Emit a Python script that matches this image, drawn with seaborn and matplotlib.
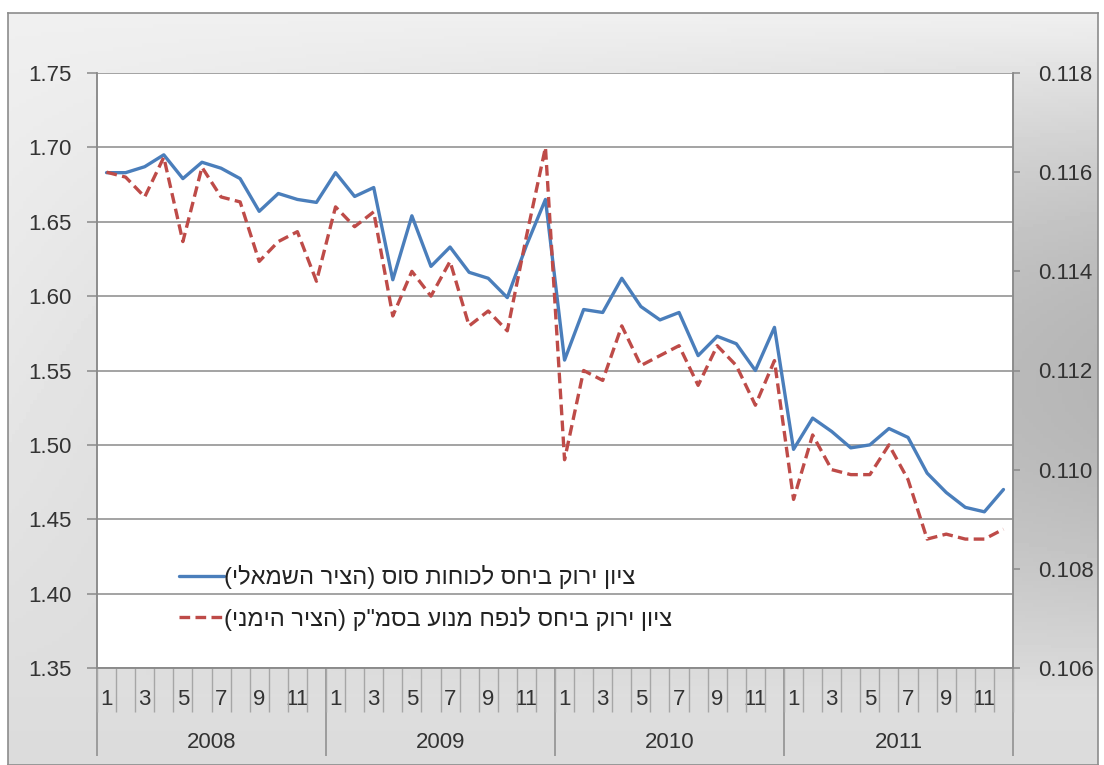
import numpy as np
import pandas as pd
import seaborn as sns
import matplotlib.pyplot as plt
from matplotlib.ticker import FormatStrFormatter

# ---- data ----
years = [2008, 2009, 2010, 2011]
months = list(range(1, 13))

# left axis: ציון ירוק ביחס לכוחות סוס
hp_score = [1.683, 1.683, 1.687, 1.695, 1.679, 1.690, 1.686, 1.679, 1.657, 1.669, 1.665, 1.663,
            1.683, 1.667, 1.673, 1.611, 1.654, 1.620, 1.633, 1.616, 1.612, 1.599, 1.634, 1.665,
            1.557, 1.591, 1.589, 1.612, 1.593, 1.584, 1.589, 1.560, 1.573, 1.568, 1.550, 1.579,
            1.497, 1.518, 1.509, 1.498, 1.500, 1.511, 1.505, 1.481, 1.468, 1.458, 1.455, 1.470]

# right axis: ציון ירוק ביחס לנפח מנוע
cc_score = [0.1160, 0.1159, 0.1155, 0.1163, 0.1146, 0.1161, 0.1155, 0.1154, 0.1142, 0.1146, 0.1148, 0.1138,
            0.1153, 0.1149, 0.1152, 0.1131, 0.1140, 0.1135, 0.1142, 0.1129, 0.1132, 0.1128, 0.1147, 0.1165,
            0.1102, 0.1120, 0.1118, 0.1129, 0.1121, 0.1123, 0.1125, 0.1117, 0.1125, 0.1121, 0.1113, 0.1122,
            0.1094, 0.1107, 0.1100, 0.1099, 0.1099, 0.1105, 0.1098, 0.1086, 0.1087, 0.1086, 0.1086, 0.1088]

label_hp = "(ילאמשה ריצה) סוס תוחוכל סחיב קורי ןויצ"     # visual order of the Hebrew text
label_cc = "(ינמיה ריצה) ק\"מסב עונמ חפנל סחיב קורי ןויצ"

df = pd.DataFrame({
    "idx": range(len(hp_score)),
    "year": [y for y in years for m in months],
    "month": [m for y in years for m in months],
    "hp": hp_score,
    "cc": cc_score,
})

sns.set_style("white")
plt.rcParams['font.family'] = ['Liberation Sans', 'DejaVu Sans']

W, H = 1104, 765
fig = plt.figure(figsize=(W / 100, H / 100), dpi=100)
fig.patch.set_facecolor("white")

# gray gradient chart area
bg = fig.add_axes([8 / W, 0, (W - 14) / W, (H - 13) / H], zorder=-10)
gx, gy = np.meshgrid(np.linspace(0, 1, 300), np.linspace(0, 1, 200))
shade = 0.94 - 0.19 * gx * np.sin(np.pi * np.clip(gy * 1.1, 0, 1)) - 0.08 * gy
bg.imshow(shade, cmap="gray", vmin=0, vmax=1, aspect="auto", extent=[0, 1, 1, 0])
bg.set_xticks([])
bg.set_yticks([])
for s in bg.spines.values():
    s.set_color("#8c8c8c")
    s.set_linewidth(1.2)

ax = fig.add_axes([97 / W, (H - 668) / H, (1013 - 97) / W, (668 - 73) / H])
ax.set_facecolor("white")
ax2 = ax.twinx()

blue = "#4a7ebb"
red = "#be4b48"
grid_c = "#8a8a8a"
txt_c = "#333333"

sns.lineplot(data=df, x="idx", y="hp", ax=ax, color=blue, linewidth=2.4, legend=False)
sns.lineplot(data=df, x="idx", y="cc", ax=ax2, color=red, linewidth=2.4, legend=False)
ax2.lines[0].set_dashes((3.2, 1.6))

ax.set_xlim(-0.5, len(df) - 0.5)
ax.set_ylim(1.35, 1.75)
ax.set_yticks(np.arange(1.35, 1.751, 0.05))
ax.yaxis.set_major_formatter(FormatStrFormatter('%.2f'))
ax2.set_ylim(0.106, 0.118)
ax2.set_yticks(np.arange(0.106, 0.1181, 0.002))
ax2.yaxis.set_major_formatter(FormatStrFormatter('%.3f'))

ax.grid(axis="y", color=grid_c, linewidth=1.1)
ax.grid(axis="x", visible=False)
ax2.grid(False)
ax.set_xlabel("")
ax.set_ylabel("")
ax2.set_ylabel("")

for a in (ax, ax2):
    a.spines["top"].set_visible(False)
    for side in ("left", "right", "bottom"):
        a.spines[side].set_color(grid_c)
        a.spines[side].set_linewidth(1.1)

ax.tick_params(axis="y", left=True, length=7, width=1.1, color=grid_c, pad=11,
               labelsize=16, labelcolor=txt_c)
ax2.tick_params(axis="y", right=True, length=5, width=1.1, color=grid_c, pad=13,
                labelsize=16, labelcolor=txt_c)

# month labels (odd months) and ticks between categories
ax.set_xticks(df["idx"])
ax.set_xticklabels([str(m) if m % 2 == 1 else "" for m in df["month"]])
ax.set_xticks(np.arange(-0.5, len(df), 1.0), minor=True)
ax.xaxis.remove_overlapping_locs = False
ax.tick_params(axis="x", which="major", length=0, pad=15, labelsize=16, labelcolor=txt_c)
ax.tick_params(axis="x", which="minor", bottom=True, length=32, width=1.0, color="#a6a6a6")

# year row
yr = ax.secondary_xaxis("bottom")
yr.set_xticks([df.index[df["year"] == y].values.mean() for y in years])
yr.set_xticklabels([str(y) for y in years])
yr.set_xticks(np.arange(-0.5, len(df), 12.0), minor=True)
yr.tick_params(axis="x", which="major", length=0, pad=46, labelsize=16, labelcolor=txt_c)
yr.tick_params(axis="x", which="minor", length=63, width=1.1, color=grid_c)
yr.spines["bottom"].set_visible(False)

# legend
handles = [ax.lines[0], ax2.lines[0]]
leg = ax2.legend(handles, [label_hp, label_cc], loc="lower left",
                 bbox_to_anchor=(0.066, 0.027), frameon=False, fontsize=17,
                 handlelength=1.9, handletextpad=0.0, labelspacing=0.75)
for t in leg.get_texts():
    t.set_color("#222222")

fig.savefig("out.png", dpi=100)
